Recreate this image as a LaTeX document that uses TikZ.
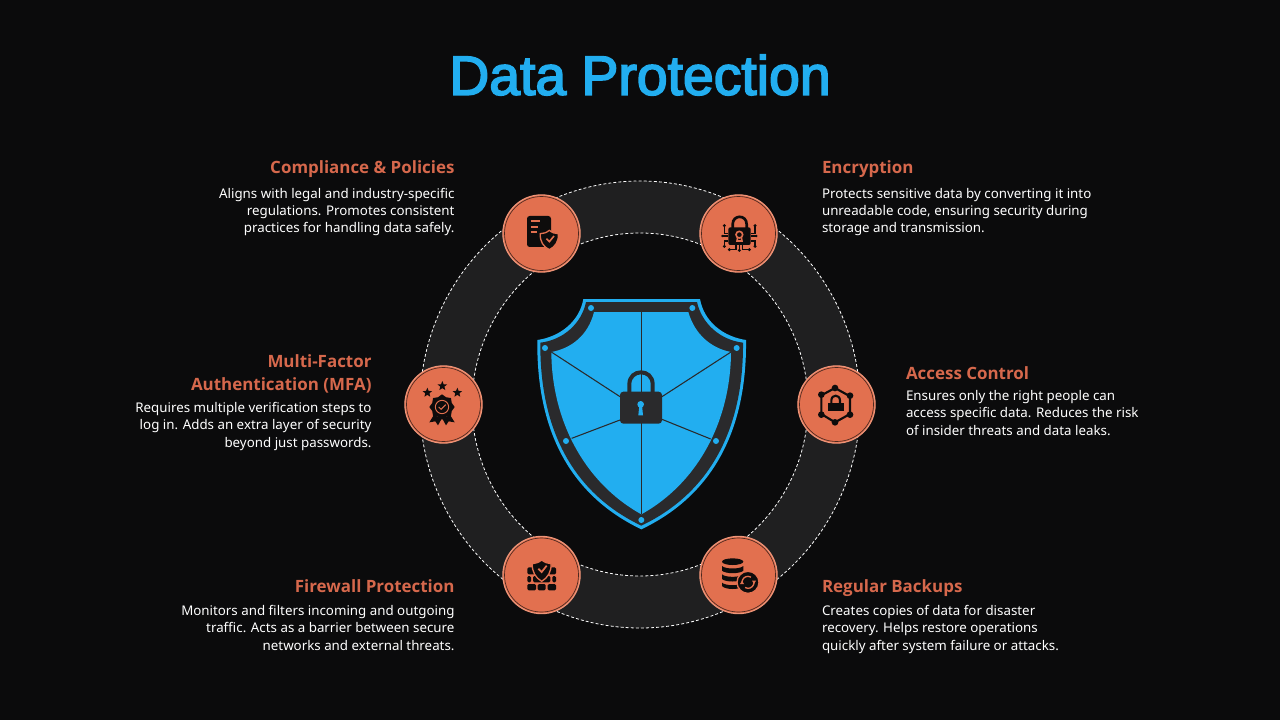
\documentclass[tikz,border=0pt]{standalone}
\usepackage{fontspec}
\setmainfont{Noto Sans}
\newfontfamily\titlefont[FakeBold=3]{Liberation Sans}
\newfontfamily\headfont{Open Sans}
\usetikzlibrary{shapes.geometric}
\definecolor{pagebg}{RGB}{11,11,12}
\definecolor{ringgray}{RGB}{31,31,32}
\definecolor{skyblue}{RGB}{34,174,240}
\definecolor{shieldgray}{RGB}{42,42,44}
\definecolor{badgeorange}{RGB}{226,112,79}
\definecolor{badgerim}{RGB}{238,150,122}
\definecolor{headorange}{RGB}{214,104,76}
\definecolor{iconblack}{RGB}{14,12,12}
\tikzset{every picture/.style={line width=0.75pt}}
\tikzset{
  badge/.style={circle,fill=badgeorange,draw=badgerim,line width=0.8pt,minimum size=58pt,inner sep=0pt},
  badgeline/.style={draw=pagebg!70!badgeorange,line width=0.5pt},
  ringdash/.style={draw=white,line width=0.6pt,dash pattern={on 2.2pt off 1.6pt}},
  heading/.style={text=headorange,font=\headfont\fontsize{12.7}{17.2}\selectfont\bfseries,inner sep=0pt},
  bodytext/.style={text=white,font=\fontsize{10}{13.1}\selectfont,inner sep=0pt},
  iconstar/.style={star,star points=5,star point ratio=2.3,fill=iconblack,inner sep=0pt,minimum size=7.5pt},
  trace/.style={draw=iconblack,line width=0.8pt},
}
\begin{document}
\begin{tikzpicture}[x=0.75pt,y=0.75pt,yscale=-1,xscale=1]
	\useasboundingbox (0,0) rectangle (1280,720);
	\fill [pagebg] (0,0) rectangle (1280,720);

	%Shape: Ring
	\fill [ringgray,even odd rule] (640,404.5) ellipse (220 and 223.5) (640,404.5) ellipse (168 and 171.5);
	\draw [ringdash] (640,404.5) ellipse (220 and 223.5);
	\draw [ringdash] (640,404.5) ellipse (168 and 171.5);

	%Shape: Shield
	\begin{scope}[shift={(520,285)},scale=0.33333]
	\fill [skyblue] (190,42) -- (540,42) .. controls (552,110) and (610,155) .. (678,165) .. controls (681,420) and (590,625) .. (364,733) .. controls (138,625) and (49,420) .. (52,165) .. controls (120,155) and (178,110) .. (190,42) -- cycle;
	\fill [shieldgray] (198,51) -- (531,51) .. controls (545,115) and (600,165) .. (669,173) .. controls (671,415) and (582,618) .. (364,722) .. controls (146,618) and (59,415) .. (61,173) .. controls (130,165) and (185,115) .. (198,51) -- cycle;
	\fill [skyblue] (222,81) -- (505,81) .. controls (525,150) and (575,190) .. (633,201) .. controls (632,400) and (540,590) .. (364,688) .. controls (188,590) and (95,400) .. (94,201) .. controls (155,190) and (205,150) .. (222,81) -- cycle;
	%Straight Lines
	\draw [shieldgray,line width=0.8pt] (364,81) -- (364,688);
	\draw [shieldgray,line width=0.8pt] (94,201) -- (300,335);
	\draw [shieldgray,line width=0.8pt] (633,201) -- (426,335);
	\draw [shieldgray,line width=0.8pt] (155,460) -- (300,405);
	\draw [shieldgray,line width=0.8pt] (572,462) -- (426,403);
	%Shape: Circle
	\fill [skyblue] (213,69) circle (9);
	\fill [skyblue] (517,69) circle (9);
	\fill [skyblue] (75,189) circle (9);
	\fill [skyblue] (650,189) circle (9);
	\fill [skyblue] (138,468) circle (9);
	\fill [skyblue] (588,468) circle (9);
	\fill [skyblue] (364,705) circle (9);
	%Shape: Lock
	\draw [shieldgray,line width=3pt] (328,325) -- (328,298) .. controls (328,250) and (398,250) .. (398,298) -- (398,325);
	\fill [shieldgray,rounded corners=2.5pt] (300,320) rectangle (426,416);
	\fill [skyblue] (362,358) circle (10);
	\fill [skyblue] (358,360) -- (366,360) -- (369,391) -- (355,391) -- cycle;
	\end{scope}

	%Shape: Badges
	\node [badge] (compliance) at (541.5,233.5) {};
	\node [badge] (encryption) at (738.5,233.5) {};
	\node [badge] (mfa) at (443.5,404.5) {};
	\node [badge] (access) at (836.5,404.5) {};
	\node [badge] (firewall) at (541.5,575) {};
	\node [badge] (backups) at (738.5,575) {};
	\draw [badgeline] (compliance) circle (37);
	\draw [badgeline] (encryption) circle (37);
	\draw [badgeline] (mfa) circle (37);
	\draw [badgeline] (access) circle (37);
	\draw [badgeline] (firewall) circle (37);
	\draw [badgeline] (backups) circle (37);

	%Icon: Document and shield
	\begin{scope}[shift={(495,185)},scale=0.33333]
	\fill [iconblack,rounded corners=2pt] (96,93) rectangle (168,186);
	\draw [badgeorange,line width=1.5pt] (107,107) -- (135,107);
	\draw [badgeorange,line width=1.5pt] (107,125) -- (130,125);
	\draw [badgeorange,line width=1.5pt] (107,142) -- (125,142);
	\draw [badgeorange,fill=iconblack,line width=1pt] (163,136) .. controls (172,143) and (180,146) .. (190,146) .. controls (192,170) and (180,186) .. (163,194) .. controls (146,186) and (134,170) .. (136,146) .. controls (146,146) and (154,143) .. (163,136) -- cycle;
	\draw [badgeorange,line width=1.2pt] (154,161) -- (163,170) -- (177,153);
	\end{scope}

	%Icon: Lock with circuit
	\begin{scope}[shift={(692,185)},scale=0.33333]
	\draw [iconblack,line width=2pt] (122,130) -- (122,118) .. controls (122,88) and (164,88) .. (164,118) -- (164,130);
	\fill [iconblack,rounded corners=1.5pt] (109,127) rectangle (176,180);
	\draw [badgeorange,line width=1.2pt] (142,149) circle (10);
	\draw [badgeorange,line width=1.2pt] (137,158) -- (135,168) -- (150,168) -- (148,158);
	\draw [trace] (97,122) -- (97,145) -- (108,145);
	\draw [trace] (91,153) -- (108,153);
	\draw [trace] (97,184) -- (97,168) -- (108,168);
	\draw [trace] (189,122) -- (189,145) -- (176,145);
	\draw [trace] (193,153) -- (176,153);
	\draw [trace] (189,184) -- (189,168) -- (176,168);
	\draw [trace] (112,194) -- (132,194) -- (132,180);
	\draw [trace] (142,180) -- (142,196);
	\draw [trace] (172,194) -- (152,194) -- (152,180);
	\fill [iconblack] (97,122) circle (5);
	\fill [iconblack] (189,122) circle (5);
	\fill [iconblack] (91,153) circle (4);
	\fill [iconblack] (193,153) circle (4);
	\fill [iconblack] (97,184) circle (5);
	\fill [iconblack] (189,184) circle (5);
	\fill [iconblack] (112,194) circle (5);
	\fill [iconblack] (142,196) circle (5);
	\fill [iconblack] (172,194) circle (5);
	\end{scope}

	%Icon: Hexagon with lock
	\begin{scope}[shift={(790,358)},scale=0.33333]
	\draw [iconblack,line width=1.6pt] (135,90) -- (180,115) -- (180,168) -- (135,193) -- (94,168) -- (94,112) -- cycle;
	\fill [iconblack] (135,90) circle (10);
	\fill [iconblack] (180,113) circle (10);
	\fill [iconblack] (180,170) circle (10);
	\fill [iconblack] (135,193) circle (10);
	\fill [iconblack] (94,170) circle (10);
	\fill [iconblack] (94,110) circle (10);
	\draw [iconblack,line width=1.6pt] (124,137) -- (124,128) .. controls (124,108) and (150,108) .. (150,128) -- (150,137);
	\fill [iconblack] (113,135) rectangle (162,160);
	\end{scope}

	%Icon: Award with stars
	\begin{scope}[shift={(397,358)},scale=0.33333]
	\fill [iconblack] (110,172) -- (97,193) -- (115,190) -- (123,202) -- (135,180) -- cycle;
	\fill [iconblack] (160,172) -- (173,193) -- (155,190) -- (147,202) -- (135,180) -- cycle;
	\node [star,star points=8,star point ratio=1.2,fill=iconblack,inner sep=0pt,minimum size=19pt] (medal) at (135,147) {};
	\draw [badgeorange,line width=0.7pt] (medal) circle (20);
	\draw [badgeorange,line width=0.7pt] (125,147) -- (132,154) -- (146,140);
	\node [iconstar] (starleft) at (91,104) {};
	\node [iconstar] (starmid) at (136,84) {};
	\node [iconstar] (starright) at (181,104) {};
	\end{scope}

	%Icon: Brick wall with shield
	\begin{scope}[shift={(495,528)},scale=0.33333]
	\fill [iconblack,rounded corners=1pt] (97,168) rectangle (123,187);
	\fill [iconblack,rounded corners=1pt] (128,168) rectangle (152,187);
	\fill [iconblack,rounded corners=1pt] (158,168) rectangle (183,187);
	\fill [iconblack,rounded corners=1pt] (97,144) rectangle (108,163);
	\fill [iconblack,rounded corners=1pt] (114,144) rectangle (166,163);
	\fill [iconblack,rounded corners=1pt] (172,144) rectangle (183,163);
	\fill [iconblack,rounded corners=1pt] (97,118) rectangle (120,139);
	\fill [iconblack,rounded corners=1pt] (160,118) rectangle (183,139);
	\draw [badgeorange,fill=iconblack,line width=1pt] (140,96) .. controls (150,104) and (158,106) .. (168,107) .. controls (170,130) and (158,150) .. (140,160) .. controls (122,150) and (110,130) .. (112,107) .. controls (122,106) and (130,104) .. (140,96) -- cycle;
	\draw [badgeorange,line width=1.3pt] (130,122) -- (140,132) -- (155,113);
	\end{scope}

	%Icon: Database with sync
	\begin{scope}[shift={(692,528)},scale=0.33333]
	\fill [iconblack] (122,101) ellipse (32 and 10);
	\fill [iconblack] (90,114) .. controls (100,124) and (144,124) .. (154,114) -- (154,128) .. controls (144,138) and (100,138) .. (90,128) -- cycle;
	\fill [iconblack] (90,139) .. controls (100,149) and (144,149) .. (154,139) -- (154,153) .. controls (144,163) and (100,163) .. (90,153) -- cycle;
	\fill [iconblack] (90,164) .. controls (100,174) and (144,174) .. (154,164) -- (154,174) .. controls (144,186) and (100,186) .. (90,174) -- cycle;
	\draw [badgeorange,fill=iconblack,line width=1pt] (168,163) circle (33);
	\draw [badgeorange,line width=1pt] (150,163) arc (180:300:18);
	\draw [badgeorange,line width=1pt] (186,163) arc (0:120:18);
	\fill [badgeorange] (144,168) -- (156,168) -- (150,158) -- cycle;
	\fill [badgeorange] (180,158) -- (192,158) -- (186,168) -- cycle;
	\end{scope}

	% Text Node
	\node [text=skyblue,font=\titlefont\fontsize{41.5}{48}\selectfont,inner sep=0pt] (title) at (640,75) {Data Protection};

	% Text Node
	\node [heading,anchor=base east] (compliancehead) at (455,174) {Compliance \& Policies};
	\node [bodytext,align=right,anchor=base east] (compliancetext) at (455,233) {Aligns with legal and industry-specific\\regulations. Promotes consistent\\practices for handling data safely.};
	% Text Node
	\node [heading,anchor=base west] (encryptionhead) at (821.5,174) {Encryption};
	\node [bodytext,align=left,anchor=base west] (encryptiontext) at (821.5,233) {Protects sensitive data by converting it into\\unreadable code, ensuring security during\\storage and transmission.};
	% Text Node
	\node [heading,align=right,anchor=base east] (mfahead) at (372,390) {Multi-Factor\\Authentication (MFA)};
	\node [bodytext,align=right,anchor=base east] (mfatext) at (372,447) {Requires multiple verification steps to\\log in. Adds an extra layer of security\\beyond just passwords.};
	% Text Node
	\node [heading,anchor=base west] (accesshead) at (905.5,379) {Access Control};
	\node [bodytext,align=left,anchor=base west] (accesstext) at (905.5,435) {Ensures only the right people can\\access specific data. Reduces the risk\\of insider threats and data leaks.};
	% Text Node
	\node [heading,anchor=base east] (firewallhead) at (455,592) {Firewall Protection};
	\node [bodytext,align=right,anchor=base east] (firewalltext) at (455,650) {Monitors and filters incoming and outgoing\\traffic. Acts as a barrier between secure\\networks and external threats.};
	% Text Node
	\node [heading,anchor=base west] (backupshead) at (821.5,592) {Regular Backups};
	\node [bodytext,align=left,anchor=base west] (backupstext) at (821.5,650) {Creates copies of data for disaster\\recovery. Helps restore operations\\quickly after system failure or attacks.};
\end{tikzpicture}
\end{document}
